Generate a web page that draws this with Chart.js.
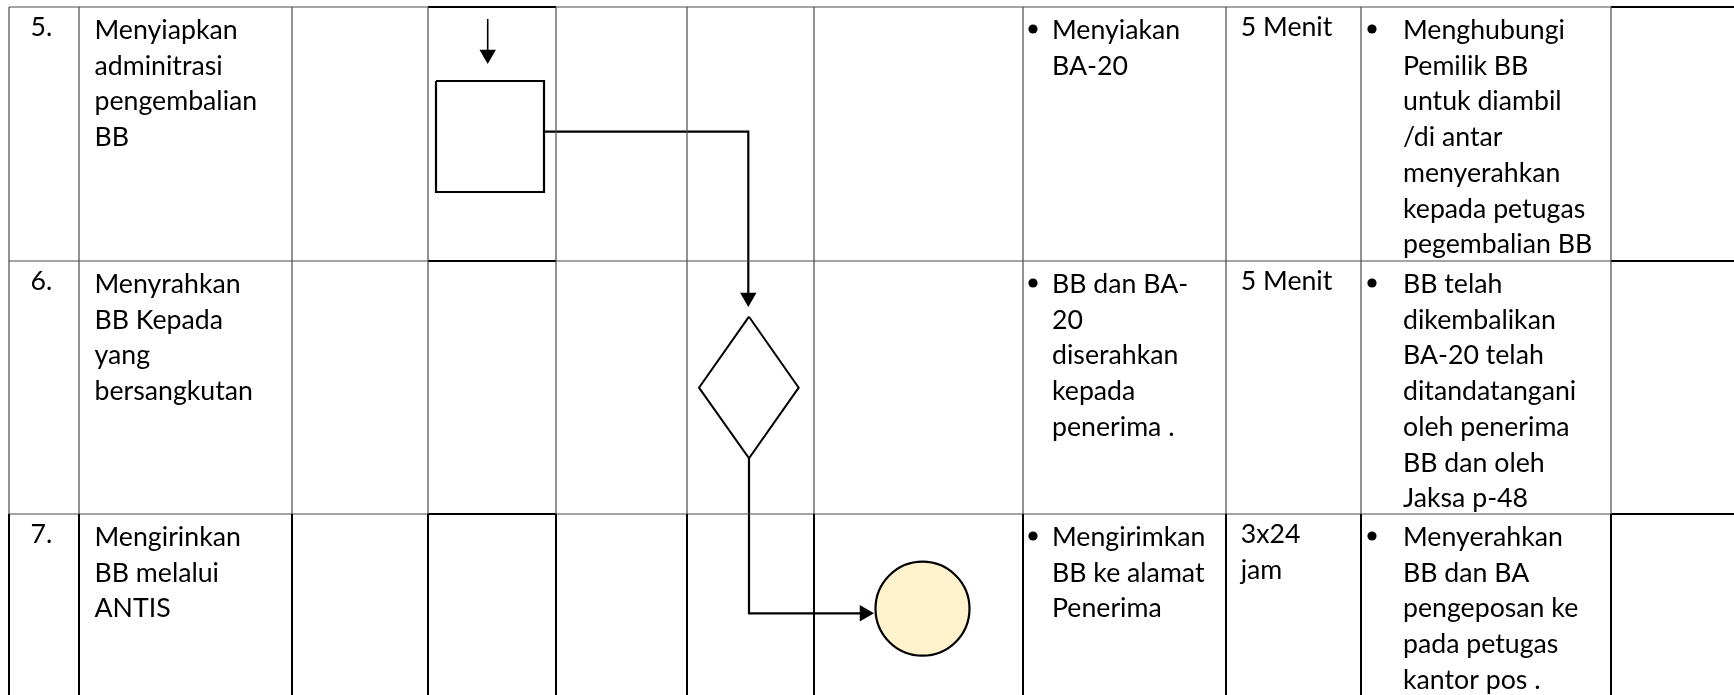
<!DOCTYPE html>
<html>
<head>
<meta charset="utf-8">
<title>Alur pengembalian BB</title>
<script src="https://cdn.jsdelivr.net/npm/chart.js@4.4.1/dist/chart.umd.min.js"></script>
<style>
  html, body { margin: 0; padding: 0; background: #fff; }
  #wrap { width: 1734px; height: 695px; }
</style>
</head>
<body>
<div id="wrap"><canvas id="flowChart" width="1734" height="695"></canvas></div>
<script>
// table content, one entry per row (steps 5, 6, 7)
const stepNo = ['5.', '6.', '7.'];
const activity = [
    ['Menyiapkan', 'adminitrasi', 'pengembalian', 'BB'],
    ['Menyrahkan', 'BB Kepada', 'yang', 'bersangkutan'],
    ['Mengirinkan', 'BB melalui', 'ANTIS']
];
const output = [
    ['Menyiakan', 'BA-20'],
    ['BB dan BA-', '20', 'diserahkan', 'kepada', 'penerima .'],
    ['Mengirimkan', 'BB ke alamat', 'Penerima']
];
const duration = [
    ['5 Menit'],
    ['5 Menit'],
    ['3x24', 'jam']
];
const notes = [
    ['Menghubungi', 'Pemilik BB', 'untuk diambil', '/di antar', 'menyerahkan', 'kepada petugas', 'pegembalian BB'],
    ['BB telah', 'dikembalikan', 'BA-20 telah', 'ditandatangani', 'oleh penerima', 'BB dan oleh', 'Jaksa p-48'],
    ['Menyerahkan', 'BB dan BA', 'pengeposan ke', 'pada petugas', 'kantor pos .']
];

// page layout (pixel space of the 1734 x 695 sheet)
const colEdges = [9, 79, 292, 428, 556, 687, 814, 1023, 1226, 1361, 1611, 1734];
const rowEdges = [7, 261, 514, 695];
const W = 1734, H = 695;
const LINE_H = 35.7;

// flow symbols
const startArrow = [[487.7, 19], [487.7, 56]];
const processBox = [[436, 81], [544, 81], [544, 192], [436, 192], [436, 81]];
const link1 = [[544, 131.7], [748.3, 131.7], [748.3, 300]];
const decision = [[749, 316.7], [798.7, 387.7], [749, 458.3], [699, 387.7], [749, 316.7]];
const link2 = [[749, 458.3], [749, 613.3], [866, 613.3]];
const endNode = [922.5, 608.7];
const arrowHeads = [
    { tip: [487.7, 64], rot: 180 },
    { tip: [748.3, 307], rot: 180 },
    { tip: [874, 613.3], rot: 90 }
];

const pts = arr => arr.map(p => ({ x: p[0], y: p[1] }));

function lineSet(points, color, width) {
    return {
        type: 'scatter',
        data: pts(points),
        showLine: true,
        borderColor: color,
        borderWidth: width,
        pointRadius: 0,
        fill: false,
        tension: 0
    };
}

const datasets = [];

// table grid
const thin = '#4a4a4a';
for (let r = 0; r < 3; r++) {
    for (let c = 0; c < colEdges.length - 1; c++) {
        const lastRow = r === 2;
        datasets.push(lineSet([[colEdges[c], rowEdges[r]], [colEdges[c], rowEdges[r + 1]]],
            lastRow ? '#000' : thin, lastRow ? 2 : 1.2));
    }
}
for (let r = 0; r < 3; r++) {
    for (let c = 0; c < colEdges.length - 1; c++) {
        const heavy = c === 3 || c === 10;
        datasets.push(lineSet([[colEdges[c], rowEdges[r]], [colEdges[c + 1], rowEdges[r]]],
            heavy ? '#000' : thin, heavy ? 2.2 : 1.2));
    }
}

// flowchart
datasets.push(lineSet(startArrow, '#000', 1.6));
datasets.push(lineSet(processBox, '#000', 2.2));
datasets.push(lineSet(link1, '#000', 2.2));
datasets.push(lineSet(decision, '#000', 2));
datasets.push(lineSet(link2, '#000', 2.2));

const HEAD_R = 9.5;
arrowHeads.forEach(a => {
    const rad = a.rot * Math.PI / 180;
    // triangle centre sits one radius behind the tip
    const cx = a.tip[0] - Math.sin(rad) * HEAD_R;
    const cy = a.tip[1] + Math.cos(rad) * HEAD_R;
    datasets.push({
        type: 'scatter',
        data: [{ x: cx, y: cy }],
        pointStyle: 'triangle',
        pointRadius: HEAD_R,
        rotation: a.rot,
        backgroundColor: '#000',
        borderColor: '#000',
        borderWidth: 0
    });
});

datasets.push({
    type: 'scatter',
    data: [{ x: endNode[0], y: endNode[1] }],
    pointStyle: 'circle',
    pointRadius: 47,
    backgroundColor: '#FFF2CC',
    borderColor: '#000',
    borderWidth: 2.2
});

// cell text
const cellText = {
    id: 'cellText',
    afterDatasetsDraw(chart) {
        const { ctx, scales: { x, y } } = chart;
        ctx.save();
        ctx.font = '100px Lato';
        const fs = 100 * 162 / ctx.measureText('Menghubungi').width;
        ctx.font = fs.toFixed(2) + 'px Lato';
        ctx.fillStyle = '#000';
        ctx.textBaseline = 'alphabetic';
        ctx.textAlign = 'left';

        const put = (lines, px, top, off) => {
            lines.forEach((t, i) => {
                ctx.fillText(t, x.getPixelForValue(px), y.getPixelForValue(top + off + i * LINE_H));
            });
        };
        const bullet = (px, top, off) => {
            ctx.beginPath();
            ctx.arc(x.getPixelForValue(px), y.getPixelForValue(top + off - 10), 4.6, 0, Math.PI * 2);
            ctx.fill();
        };

        for (let r = 0; r < 3; r++) {
            const top = rowEdges[r];
            put([stepNo[r]], 30.6, top, 29);
            put(activity[r], 94.5, top, 32);
            bullet(1033, top, 32);
            put(output[r], 1052, top, 32);
            put(duration[r], 1240.7, top, 29);
            bullet(1372, top, 32);
            put(notes[r], 1403, top, 32);
        }
        ctx.restore();
    }
};

new Chart(document.getElementById('flowChart'), {
    type: 'scatter',
    data: { datasets },
    options: {
        responsive: false,
        animation: false,
        devicePixelRatio: 1,
        layout: { padding: 0, autoPadding: false },
        clip: false,
        plugins: { legend: { display: false }, tooltip: { enabled: false } },
        scales: {
            x: { type: 'linear', min: 0, max: W, display: false },
            y: { type: 'linear', min: 0, max: H, reverse: true, display: false }
        }
    },
    plugins: [cellText]
});
</script>
</body>
</html>
